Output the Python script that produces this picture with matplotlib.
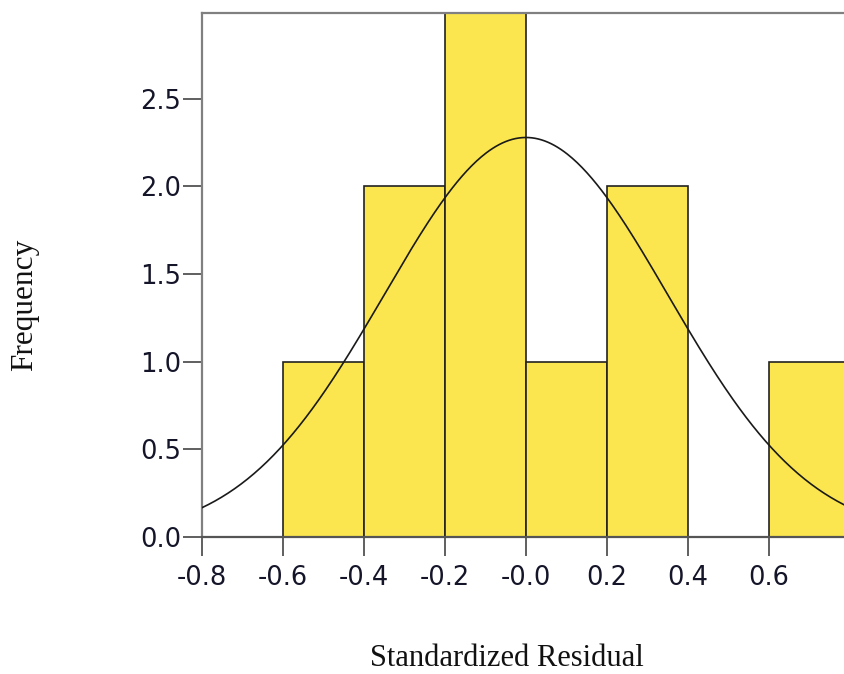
import numpy as np
import matplotlib
matplotlib.use("Agg")
import matplotlib.pyplot as plt

# Data
bin_edges = [-0.8, -0.6, -0.4, -0.2, 0.0, 0.2, 0.4, 0.6, 0.8]
counts = [0, 1, 2, 3, 1, 2, 0, 1]
x_ticks = [-0.8, -0.6, -0.4, -0.2, 0.0, 0.2, 0.4, 0.6]
x_tick_labels = ["-0.8", "-0.6", "-0.4", "-0.2", "-0.0", "0.2", "0.4", "0.6"]
y_ticks = [0.0, 0.5, 1.0, 1.5, 2.0, 2.5]
y_tick_labels = ["0.0", "0.5", "1.0", "1.5", "2.0", "2.5"]
fit_mean = 0.0
fit_sd = 0.35

fig = plt.figure(figsize=(8.45, 6.74), dpi=100)
ax = fig.add_axes([202/845, 1-537/674, (850-202)/845, (537-13)/674])

edges = np.array(bin_edges)
widths = np.diff(edges)
ax.bar(edges[:-1], counts, width=widths, align="edge",
       color="#FCE64F", edgecolor="#222222", linewidth=1.2, zorder=2)

n = sum(counts)
bw = widths[0]
xs = np.linspace(-0.8, 0.8, 400)
ys = n * bw / (fit_sd * np.sqrt(2*np.pi)) * np.exp(-0.5*((xs-fit_mean)/fit_sd)**2)
ax.plot(xs, ys, color="#1a1a1a", linewidth=1.2, zorder=3)

ax.set_xlim(-0.8, 0.8)
ax.set_ylim(0, 2.99)
ax.set_xticks(x_ticks)
ax.set_xticklabels(x_tick_labels)
ax.set_yticks(y_ticks)
ax.set_yticklabels(y_tick_labels)

for s in ["left", "top", "bottom", "right"]:
    ax.spines[s].set_color("#808080")
    ax.spines[s].set_linewidth(1.6)
ax.spines["bottom"].set_color("#555555")
ax.tick_params(axis="both", direction="out", length=14, width=1.2,
               color="#444444", labelsize=18.5, labelcolor="#15152a")
ax.tick_params(axis="x", pad=6)
ax.tick_params(axis="y", pad=1)
for lab in ax.get_xticklabels() + ax.get_yticklabels():
    lab.set_family("DejaVu Sans")

fig.text(507/845, 1-658/674, "Standardized Residual", family="Liberation Serif",
         fontsize=22, ha="center", va="center", color="#111111")
fig.text(25/845, 1-305/674, "Frequency", family="Liberation Serif",
         fontsize=22.5, ha="center", va="center", rotation=90, color="#111111")

fig.savefig("out.png", dpi=100)
